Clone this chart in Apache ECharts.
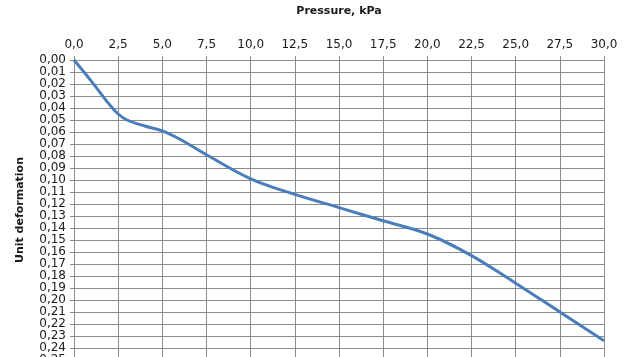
<!DOCTYPE html>
<html>
<head>
<meta charset="utf-8">
<script src="https://cdn.jsdelivr.net/npm/echarts@6/dist/echarts.min.js"></script>
<style>
html,body{margin:0;padding:0;background:#fff;}
#c{width:630px;height:357px;}
</style>
</head>
<body>
<div id="c"></div>
<script>
var pressure = [0, 1, 2, 2.5, 3, 4, 5, 6, 7.5, 10, 12.5, 15, 17.5, 20, 22.5, 25, 27.5, 30];
var deformation = [0, 0.018, 0.037, 0.045, 0.05, 0.055, 0.059, 0.066, 0.079, 0.099, 0.112, 0.123, 0.134, 0.145, 0.163, 0.186, 0.21, 0.234];
var xTitle = 'Pressure, kPa';
var yTitle = 'Unit deformation';

var pts = pressure.map(function (p, i) { return [p, deformation[i]]; });
var chart = echarts.init(document.getElementById('c'), null, {renderer: 'canvas'});
var gridColor = '#8c8c8c';
var txt = '#1a1a1a';
chart.setOption({
  animation: false,
  grid: {left: 74, right: 26, top: 60, bottom: -3, containLabel: false, outerBoundsMode: 'none'},
  xAxis: {
    type: 'value', position: 'top', min: 0, max: 30, interval: 2.5,
    name: xTitle, nameLocation: 'middle', nameGap: 43,
    nameTextStyle: {fontFamily: 'DejaVu Sans', fontWeight: 'bold', fontSize: 11, color: txt},
    axisLine: {show: true, lineStyle: {color: gridColor, width: 1}},
    axisTick: {show: true, length: 4, lineStyle: {color: gridColor}},
    axisLabel: {fontFamily: 'DejaVu Sans', fontSize: 12, color: txt, margin: 9,
      formatter: function (v) { return v.toFixed(1).replace('.', ','); }},
    splitLine: {show: true, lineStyle: {color: gridColor, width: 1}}
  },
  yAxis: {
    type: 'value', inverse: true, min: 0, max: 0.25, interval: 0.01,
    name: yTitle, nameLocation: 'middle', nameGap: 48, nameRotate: 90,
    nameTextStyle: {fontFamily: 'DejaVu Sans', fontWeight: 'bold', fontSize: 11, color: txt},
    axisLine: {show: true, lineStyle: {color: gridColor, width: 1}},
    axisTick: {show: true, length: 4, lineStyle: {color: gridColor}},
    axisLabel: {fontFamily: 'DejaVu Sans', fontSize: 12, color: txt, margin: 8,
      formatter: function (v) { return v.toFixed(2).replace('.', ','); }},
    splitLine: {show: true, lineStyle: {color: gridColor, width: 1}}
  },
  series: [{
    type: 'line', data: pts, smooth: 0.35, showSymbol: false, symbol: 'none',
    lineStyle: {color: '#4a7ebb', width: 3}
  }]
});
</script>
</body>
</html>
